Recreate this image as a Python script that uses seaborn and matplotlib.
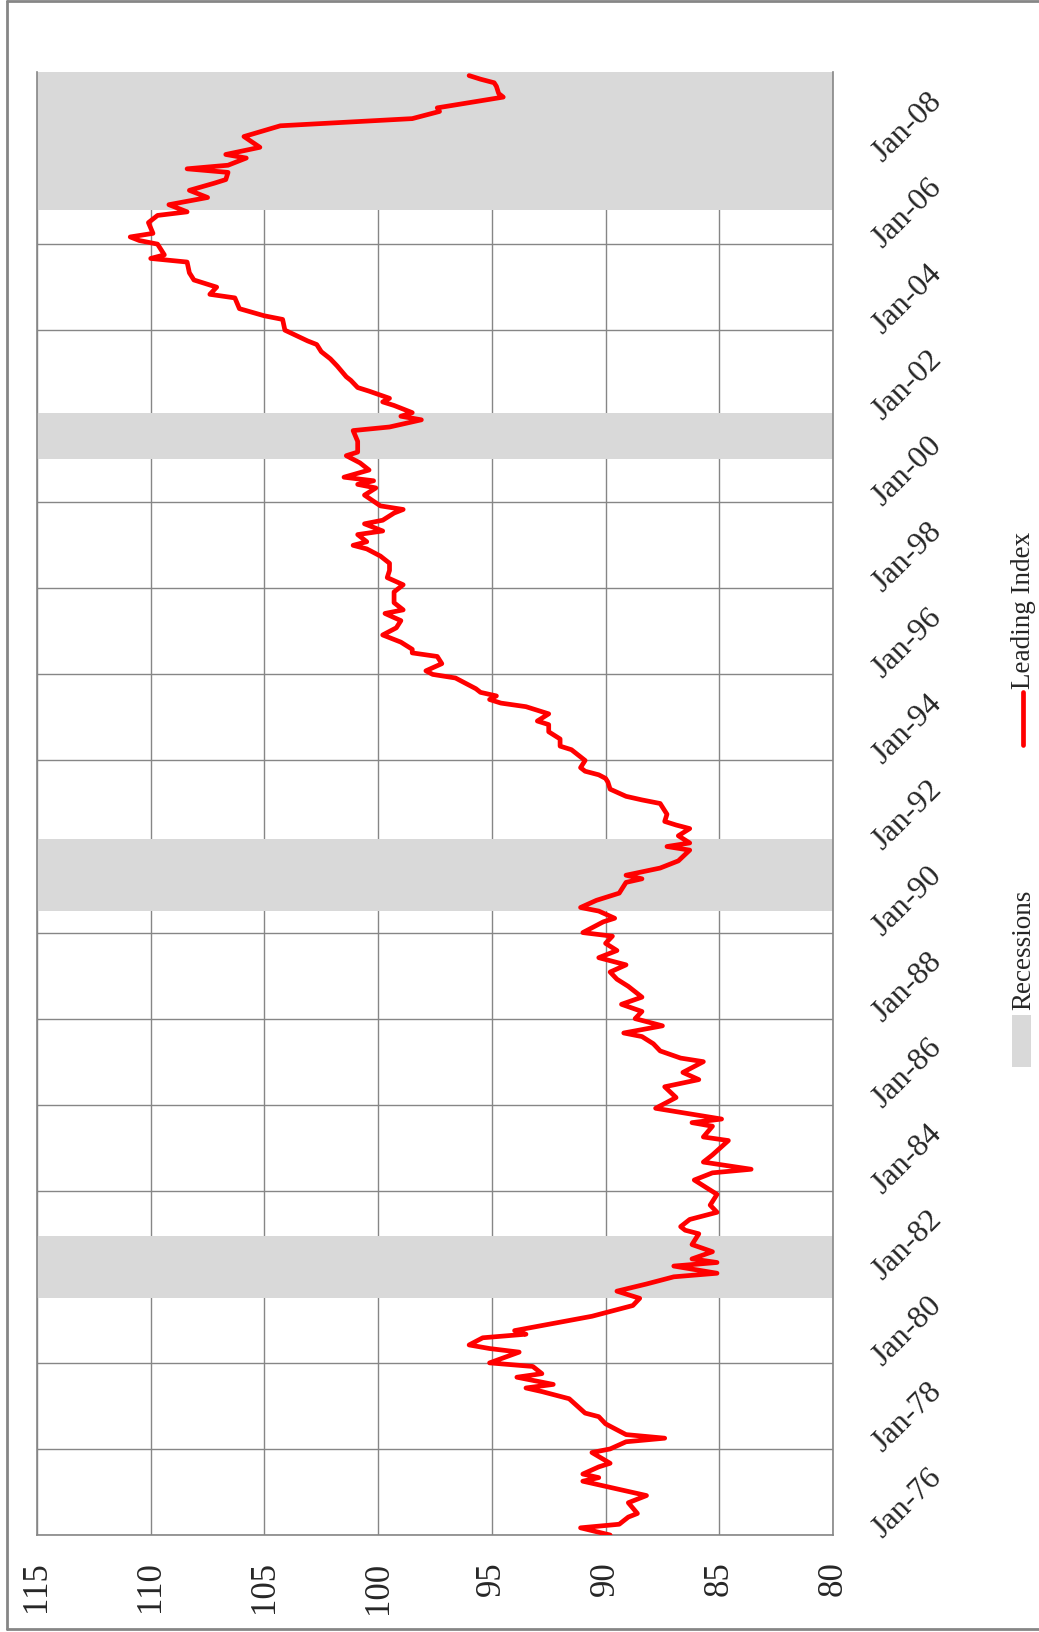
import matplotlib
matplotlib.use("Agg")
import matplotlib.pyplot as plt
import matplotlib.transforms as mtransforms
from matplotlib.patches import Rectangle
from matplotlib.lines import Line2D
import pandas as pd
import seaborn as sns

# Leading Index (month index counted from Jan-76)
months = [
    0, 2, 3, 5, 6, 9, 11, 15, 16, 17,
    19, 20, 23, 24, 26, 27, 28, 31, 33, 34,
    38, 40, 41, 42, 44, 45, 47, 48, 51, 52,
    53, 55, 56, 57, 59, 61, 62, 63, 64, 66,
    68, 70, 72, 73, 75, 76, 77, 79, 81, 84,
    85, 86, 88, 90, 92, 95, 97, 99, 101, 102,
    104, 106, 110, 111, 114, 115, 116, 119, 122, 125,
    127, 129, 132, 133, 135, 137, 139, 140, 142, 144,
    146, 148, 150, 153, 155, 157, 159, 161, 163, 165,
    167, 168, 171, 172, 174, 175, 177, 179, 182, 183,
    184, 186, 188, 191, 192, 193, 195, 197, 198, 199,
    201, 204, 205, 206, 208, 210, 211, 212, 213, 214,
    216, 218, 219, 220, 222, 224, 226, 227, 229, 231,
    232, 233, 234, 235, 236, 237, 239, 240, 241, 243,
    245, 246, 247, 249, 251, 253, 255, 257, 258, 260,
    263, 265, 267, 269, 271, 273, 275, 276, 277, 279,
    280, 282, 283, 285, 286, 287, 290, 292, 293, 294,
    295, 297, 299, 301, 302, 305, 308, 309, 311, 312,
    313, 315, 316, 317, 319, 320, 322, 323, 326, 328,
    330, 332, 333, 336, 339, 340, 342, 345, 346, 348,
    350, 352, 355, 356, 357, 360, 361, 362, 363, 366,
    368, 369, 371, 373, 375, 377, 378, 380, 381, 382,
    384, 385, 387, 390, 393, 395, 397, 398, 401, 402,
    404, 405, 406, 407,
]
index_values = [
    89.8, 91.1, 89.4, 89.0, 88.6, 89.0, 88.2, 91.0, 90.3, 91.0,
    90.3, 89.8, 90.6, 89.8, 89.1, 87.4, 89.1, 90.0, 90.3, 90.9,
    91.6, 92.8, 93.5, 92.3, 93.9, 92.8, 93.2, 95.1, 93.8, 95.1,
    96.0, 95.4, 93.5, 94.0, 92.3, 90.6, 90.0, 89.4, 88.8, 88.5,
    89.5, 88.2, 87.0, 85.1, 87.0, 85.1, 86.2, 85.3, 86.2, 85.9,
    86.5, 86.7, 86.3, 85.1, 85.4, 85.1, 85.6, 86.1, 85.3, 83.6,
    85.7, 85.3, 84.6, 85.7, 85.3, 86.2, 84.9, 87.8, 86.9, 87.4,
    85.9, 86.6, 85.7, 86.7, 87.6, 87.9, 88.4, 89.2, 87.5, 88.7,
    88.4, 89.3, 88.4, 89.0, 89.5, 89.8, 89.1, 90.3, 89.5, 90.0,
    89.7, 91.0, 90.1, 89.6, 90.3, 91.1, 90.4, 89.4, 89.1, 88.4,
    89.1, 87.6, 86.8, 86.3, 87.3, 86.3, 86.8, 86.3, 86.9, 87.4,
    87.3, 87.6, 88.4, 89.1, 89.8, 89.9, 90.0, 90.3, 90.9, 91.1,
    90.9, 91.3, 91.5, 92.0, 92.0, 92.5, 92.5, 93.0, 92.5, 93.5,
    94.6, 95.1, 94.8, 95.5, 95.7, 96.0, 96.6, 97.6, 97.9, 97.2,
    97.4, 98.5, 98.5, 99.0, 99.8, 99.2, 99.0, 99.7, 98.9, 99.3,
    99.3, 98.9, 99.6, 99.5, 99.5, 99.9, 100.5, 101.1, 100.5, 100.9,
    99.8, 100.6, 99.8, 99.3, 98.9, 99.9, 100.6, 100.1, 100.9, 100.2,
    101.5, 100.4, 100.8, 101.4, 100.9, 100.9, 101.1, 99.5, 98.1, 99.0,
    98.5, 99.3, 99.8, 99.5, 100.4, 100.9, 101.2, 101.4, 101.8, 102.1,
    102.5, 102.7, 103.1, 104.1, 104.2, 105.0, 106.1, 106.3, 107.4, 107.1,
    108.1, 108.3, 108.4, 110.0, 109.4, 109.7, 110.5, 110.9, 109.9, 110.1,
    109.7, 108.4, 109.2, 107.5, 108.3, 107.2, 106.7, 106.6, 108.4, 106.6,
    105.8, 106.7, 105.2, 105.9, 104.3, 98.5, 97.3, 97.4, 94.5, 94.7,
    94.8, 94.9, 95.5, 96.0,
]

# recession bands (month index)
recession_start = [66, 174, 300, 369.5]
recession_end = [83.5, 194, 313, 408]

value_ticks = [115, 110, 105, 100, 95, 90, 85, 80]
date_labels = ['Jan-76', 'Jan-78', 'Jan-80', 'Jan-82', 'Jan-84', 'Jan-86',
               'Jan-88', 'Jan-90', 'Jan-92', 'Jan-94', 'Jan-96', 'Jan-98',
               'Jan-00', 'Jan-02', 'Jan-04', 'Jan-06', 'Jan-08']

W, H = 1039, 1632
GRID = '#868686'

sns.set_theme(style='white')
plt.rcParams['font.family'] = ['Liberation Serif', 'DejaVu Serif']


def fx(px):
    return px / W


def fy(py):
    return 1 - py / H


fig = plt.figure(figsize=(W / 100, H / 100), dpi=100)
ax = fig.add_axes([fx(37), fy(1535), fx(833 - 37), (1535 - 72) / H])

df = pd.DataFrame({'month': months, 'value': index_values})

for s, e in zip(recession_start, recession_end):
    ax.axhspan(s, e, color='#d9d9d9', lw=0, zorder=1)

sns.lineplot(data=df, x='value', y='month', orient='y', sort=False,
             estimator=None, color='#ff0000', lw=3.4, ax=ax, zorder=3,
             solid_joinstyle='round', solid_capstyle='round')

ax.set_xlim(115, 80)
ax.set_ylim(0, 408)
ax.set_xlabel('')
ax.set_ylabel('')

# value axis (bottom), labels rotated
ax.set_xticks(value_ticks)
ax.set_xticklabels([str(v) for v in value_ticks], rotation=90, fontsize=25)
ax.tick_params(axis='x', length=0, pad=19)

# date axis on the right: gridlines every 24 months, labels centred in each block
ax.set_yticks(range(0, 409, 24))
ax.set_yticklabels([])
ax.set_yticks([12 + 24 * i for i in range(len(date_labels))], minor=True)
ax.set_yticklabels(date_labels, minor=True)
ax.tick_params(axis='y', which='both', left=False, right=False,
               labelleft=False, labelright=True, length=0, pad=24)
shift = mtransforms.ScaledTranslation(0, -12 / 100, fig.dpi_scale_trans)
for lab in ax.get_yticklabels(minor=True):
    lab.set_rotation(45)
    lab.set_fontsize(23)
    lab.set_ha('left')
    lab.set_va('center')
    lab.set_transform(lab.get_transform() + shift)

ax.grid(True, which='major', color=GRID, lw=1)
ax.set_axisbelow(True)
ax.spines['top'].set_visible(False)
for side in ['left', 'right', 'bottom']:
    ax.spines[side].set_color(GRID)
    ax.spines[side].set_linewidth(1.2)

# outer chart frame
for xs, ys in [([7, 7], [1, 1629]), ([7, 1039], [1, 1]), ([7, 1039], [1629, 1629])]:
    fig.add_artist(Line2D([fx(x) for x in xs], [fy(y) for y in ys],
                          color=GRID, lw=2, transform=fig.transFigure))

# legend, drawn rotated like the chart
fig.add_artist(Line2D([fx(1023), fx(1023)], [fy(745), fy(692)],
                      color='#ff0000', lw=3.4, transform=fig.transFigure))
fig.text(fx(1024), fy(689), 'Leading Index', rotation=90, ha='center',
         va='bottom', fontsize=19.5)
fig.add_artist(Rectangle((fx(1012), fy(1067)), fx(19), 52 / H,
                         facecolor='#d9d9d9', edgecolor='none',
                         transform=fig.transFigure))
fig.text(fx(1024), fy(1010), 'Recessions', rotation=90, ha='center',
         va='bottom', fontsize=19.5)

fig.savefig('out.png', dpi=100)
